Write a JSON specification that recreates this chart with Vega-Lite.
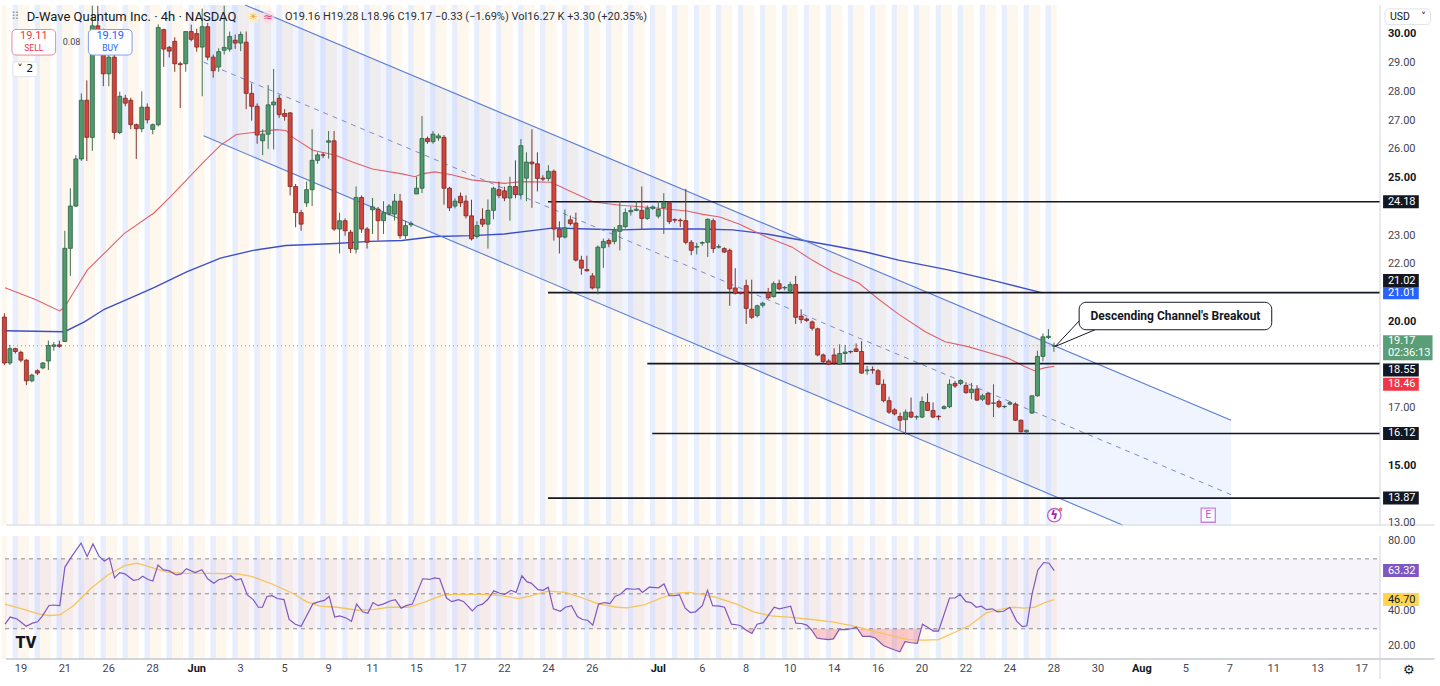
{
"$schema":"https://vega.github.io/schema/vega-lite/v6.json",
"width":1385,"height":664,"padding":0,"background":"#ffffff",
"config":{"view":{"stroke":null},"text":{"font":"Roboto"}},
"datasets":{
"bars":[
{"i":-3,"o":20.17,"h":20.3,"l":18.5,"c":18.57,"s":"pre"},{"i":-2,"o":18.57,"h":19.2,"l":18.5,"c":19.07,"s":"reg"},{"i":-1,"o":19.07,"h":19.1,"l":18.9,"c":18.97,"s":"post"},
{"i":0,"o":18.94,"h":19.0,"l":18.6,"c":18.67,"s":"pre"},{"i":1,"o":18.67,"h":18.7,"l":17.8,"c":17.95,"s":"pre"},{"i":2,"o":17.95,"h":18.2,"l":17.9,"c":18.15,"s":"reg"},{"i":3,"o":18.3,"h":18.35,"l":18.15,"c":18.22,"s":"post"},
{"i":4,"o":18.4,"h":18.6,"l":18.35,"c":18.57,"s":"pre"},{"i":5,"o":18.64,"h":19.35,"l":18.33,"c":19.18,"s":"pre"},{"i":6,"o":19.15,"h":19.3,"l":19.0,"c":19.2,"s":"reg"},{"i":7,"o":19.2,"h":19.35,"l":19.1,"c":19.15,"s":"post"},
{"i":8,"o":19.32,"h":23.17,"l":19.3,"c":22.56,"s":"pre"},{"i":9,"o":22.56,"h":24.65,"l":21.6,"c":24.03,"s":"pre"},{"i":10,"o":24.03,"h":25.8,"l":24.0,"c":25.67,"s":"reg"},{"i":11,"o":25.67,"h":27.95,"l":25.6,"c":27.71,"s":"post"},
{"i":12,"o":27.71,"h":28.4,"l":25.6,"c":26.42,"s":"pre"},{"i":13,"o":26.42,"h":31.0,"l":25.95,"c":30.3,"s":"pre"},{"i":14,"o":30.3,"h":31.0,"l":29.3,"c":29.7,"s":"reg"},{"i":15,"o":29.7,"h":30.2,"l":28.2,"c":28.63,"s":"post"},
{"i":16,"o":28.63,"h":29.6,"l":28.2,"c":29.21,"s":"pre"},{"i":17,"o":29.21,"h":29.3,"l":26.35,"c":26.59,"s":"pre"},{"i":18,"o":26.59,"h":28.01,"l":26.53,"c":27.85,"s":"reg"},{"i":19,"o":27.78,"h":27.9,"l":27.5,"c":27.61,"s":"post"},
{"i":20,"o":27.71,"h":27.8,"l":26.7,"c":26.86,"s":"pre"},{"i":21,"o":26.86,"h":26.9,"l":25.67,"c":26.72,"s":"pre"},{"i":22,"o":26.72,"h":28.02,"l":26.6,"c":27.47,"s":"reg"},{"i":23,"o":27.47,"h":27.6,"l":26.9,"c":27.03,"s":"post"},
{"i":24,"o":26.7,"h":26.9,"l":26.53,"c":26.86,"s":"pre"},{"i":25,"o":26.86,"h":30.35,"l":26.8,"c":30.24,"s":"pre"},{"i":26,"o":30.17,"h":30.2,"l":28.87,"c":29.49,"s":"reg"},{"i":27,"o":29.55,"h":29.6,"l":29.2,"c":29.42,"s":"post"},
{"i":28,"o":29.76,"h":29.9,"l":28.7,"c":28.98,"s":"pre"},{"i":29,"o":28.98,"h":29.05,"l":27.44,"c":28.95,"s":"pre"},{"i":30,"o":28.98,"h":30.11,"l":28.7,"c":30.1,"s":"reg"},{"i":31,"o":30.1,"h":30.34,"l":29.76,"c":29.83,"s":"post"},
{"i":32,"o":30.03,"h":30.2,"l":29.4,"c":29.56,"s":"pre"},{"i":33,"o":29.56,"h":30.9,"l":27.85,"c":30.27,"s":"pre"},{"i":34,"o":30.27,"h":30.4,"l":29.1,"c":29.21,"s":"reg"},{"i":35,"o":29.21,"h":29.3,"l":28.5,"c":28.74,"s":"post"},
{"i":36,"o":28.87,"h":29.52,"l":28.7,"c":29.4,"s":"pre"},{"i":37,"o":29.45,"h":31.0,"l":29.3,"c":29.55,"s":"pre"},{"i":38,"o":29.49,"h":30.1,"l":29.4,"c":29.93,"s":"reg"},{"i":39,"o":29.8,"h":30.0,"l":29.5,"c":29.7,"s":"post"},
{"i":40,"o":29.7,"h":30.1,"l":29.42,"c":30.0,"s":"pre"},{"i":41,"o":29.73,"h":30.1,"l":27.4,"c":27.95,"s":"pre"},{"i":42,"o":27.95,"h":28.3,"l":27.0,"c":27.5,"s":"reg"},{"i":43,"o":27.5,"h":27.6,"l":26.2,"c":26.5,"s":"post"},
{"i":44,"o":26.3,"h":26.7,"l":25.8,"c":26.53,"s":"pre"},{"i":45,"o":26.53,"h":28.24,"l":26.02,"c":27.55,"s":"pre"},{"i":46,"o":27.55,"h":28.8,"l":26.0,"c":27.65,"s":"reg"},{"i":47,"o":27.78,"h":27.9,"l":27.1,"c":27.21,"s":"post"},
{"i":48,"o":27.25,"h":27.4,"l":27.0,"c":27.15,"s":"pre"},{"i":49,"o":27.27,"h":27.3,"l":24.4,"c":24.71,"s":"pre"},{"i":50,"o":24.71,"h":24.8,"l":23.29,"c":23.8,"s":"reg"},{"i":51,"o":23.8,"h":23.9,"l":23.17,"c":23.4,"s":"post"},
{"i":52,"o":24.14,"h":24.88,"l":24.0,"c":24.6,"s":"pre"},{"i":53,"o":24.6,"h":26.7,"l":24.03,"c":25.62,"s":"pre"},{"i":54,"o":25.62,"h":25.9,"l":25.5,"c":25.81,"s":"reg"},{"i":55,"o":25.81,"h":25.9,"l":25.7,"c":25.8,"s":"post"},
{"i":56,"o":26.25,"h":26.64,"l":25.68,"c":26.3,"s":"pre"},{"i":57,"o":26.3,"h":26.64,"l":23.17,"c":23.23,"s":"pre"},{"i":58,"o":23.23,"h":23.8,"l":22.38,"c":23.52,"s":"reg"},{"i":59,"o":23.52,"h":23.6,"l":23.0,"c":23.17,"s":"post"},
{"i":60,"o":23.12,"h":23.2,"l":22.4,"c":22.55,"s":"pre"},{"i":61,"o":22.53,"h":24.71,"l":22.38,"c":24.33,"s":"pre"},{"i":62,"o":24.33,"h":24.4,"l":23.1,"c":23.23,"s":"reg"},{"i":63,"o":23.23,"h":23.3,"l":22.55,"c":22.77,"s":"post"},
{"i":64,"o":23.9,"h":24.31,"l":23.06,"c":24.0,"s":"pre"},{"i":65,"o":23.92,"h":24.0,"l":22.83,"c":23.52,"s":"pre"},{"i":66,"o":23.52,"h":24.2,"l":23.06,"c":23.8,"s":"reg"},{"i":67,"o":23.75,"h":24.1,"l":23.7,"c":24.03,"s":"post"},
{"i":68,"o":23.75,"h":24.45,"l":23.52,"c":24.2,"s":"pre"},{"i":69,"o":24.2,"h":24.45,"l":22.89,"c":23.0,"s":"pre"},{"i":70,"o":23.0,"h":23.52,"l":22.89,"c":23.35,"s":"reg"},{"i":71,"o":23.38,"h":23.5,"l":23.3,"c":23.42,"s":"post"},
{"i":72,"o":24.45,"h":25.05,"l":24.45,"c":24.65,"s":"pre"},{"i":73,"o":24.65,"h":27.16,"l":24.48,"c":26.38,"s":"pre"},{"i":74,"o":26.38,"h":26.45,"l":26.2,"c":26.27,"s":"reg"},{"i":75,"o":26.27,"h":26.64,"l":26.2,"c":26.53,"s":"post"},
{"i":76,"o":26.4,"h":26.55,"l":26.3,"c":26.47,"s":"pre"},{"i":77,"o":26.42,"h":26.5,"l":24.08,"c":24.65,"s":"pre"},{"i":78,"o":24.65,"h":24.7,"l":23.86,"c":23.97,"s":"reg"},{"i":79,"o":24.03,"h":24.3,"l":23.95,"c":24.2,"s":"post"},
{"i":80,"o":24.37,"h":24.5,"l":24.0,"c":24.14,"s":"pre"},{"i":81,"o":24.2,"h":24.4,"l":23.6,"c":23.69,"s":"pre"},{"i":82,"o":23.69,"h":24.25,"l":22.83,"c":22.89,"s":"reg"},{"i":83,"o":22.97,"h":23.5,"l":22.9,"c":23.35,"s":"post"},
{"i":84,"o":23.57,"h":23.95,"l":23.3,"c":23.4,"s":"pre"},{"i":85,"o":23.4,"h":24.26,"l":22.55,"c":23.88,"s":"pre"},{"i":86,"o":23.88,"h":24.7,"l":23.57,"c":24.65,"s":"reg"},{"i":87,"o":24.6,"h":24.88,"l":24.3,"c":24.4,"s":"post"},
{"i":88,"o":24.56,"h":24.7,"l":24.2,"c":24.31,"s":"pre"},{"i":89,"o":24.31,"h":25.05,"l":23.52,"c":24.71,"s":"pre"},{"i":90,"o":24.71,"h":25.62,"l":24.3,"c":24.43,"s":"reg"},{"i":91,"o":24.43,"h":26.36,"l":24.26,"c":26.13,"s":"post"},
{"i":92,"o":25.0,"h":25.9,"l":24.2,"c":25.56,"s":"pre"},{"i":93,"o":25.56,"h":26.7,"l":23.97,"c":25.5,"s":"pre"},{"i":94,"o":25.5,"h":25.9,"l":24.54,"c":24.99,"s":"reg"},{"i":95,"o":25.0,"h":25.1,"l":24.9,"c":24.97,"s":"post"},
{"i":96,"o":24.99,"h":25.45,"l":24.9,"c":25.24,"s":"pre"},{"i":97,"o":25.24,"h":25.3,"l":22.83,"c":23.23,"s":"pre"},{"i":98,"o":23.23,"h":23.5,"l":22.38,"c":22.95,"s":"reg"},{"i":99,"o":22.95,"h":23.91,"l":22.9,"c":23.27,"s":"post"},
{"i":100,"o":23.55,"h":23.7,"l":23.35,"c":23.42,"s":"pre"},{"i":101,"o":23.44,"h":23.8,"l":22.1,"c":22.15,"s":"pre"},{"i":102,"o":22.15,"h":22.3,"l":21.64,"c":21.87,"s":"reg"},{"i":103,"o":21.82,"h":22.3,"l":21.75,"c":21.78,"s":"post"},
{"i":104,"o":21.6,"h":21.7,"l":21.13,"c":21.18,"s":"pre"},{"i":105,"o":21.18,"h":22.66,"l":20.96,"c":22.6,"s":"pre"},{"i":106,"o":22.58,"h":22.9,"l":21.88,"c":22.8,"s":"reg"},{"i":107,"o":22.83,"h":22.9,"l":22.6,"c":22.72,"s":"post"},
{"i":108,"o":22.8,"h":23.3,"l":22.7,"c":23.17,"s":"pre"},{"i":109,"o":23.15,"h":24.2,"l":22.49,"c":23.35,"s":"pre"},{"i":110,"o":23.31,"h":23.95,"l":23.25,"c":23.8,"s":"reg"},{"i":111,"o":23.83,"h":24.0,"l":23.7,"c":23.88,"s":"post"},
{"i":112,"o":23.88,"h":24.2,"l":23.85,"c":23.92,"s":"pre"},{"i":113,"o":23.88,"h":24.71,"l":23.23,"c":23.6,"s":"pre"},{"i":114,"o":23.6,"h":24.05,"l":23.55,"c":23.95,"s":"reg"},{"i":115,"o":23.95,"h":24.05,"l":23.9,"c":24.0,"s":"post"},
{"i":116,"o":23.68,"h":24.2,"l":23.6,"c":23.91,"s":"pre"},{"i":117,"o":23.97,"h":24.48,"l":23.06,"c":24.14,"s":"pre"},{"i":118,"o":24.14,"h":24.2,"l":23.4,"c":23.49,"s":"reg"},{"i":119,"o":23.56,"h":23.6,"l":23.45,"c":23.54,"s":"post"},
{"i":120,"o":23.54,"h":23.6,"l":23.3,"c":23.52,"s":"pre"},{"i":121,"o":23.52,"h":24.63,"l":22.7,"c":22.77,"s":"pre"},{"i":122,"o":22.77,"h":22.85,"l":22.32,"c":22.49,"s":"reg"},{"i":123,"o":22.6,"h":22.75,"l":22.35,"c":22.62,"s":"post"},
{"i":124,"o":22.74,"h":22.8,"l":22.65,"c":22.76,"s":"pre"},{"i":125,"o":22.77,"h":23.6,"l":22.26,"c":23.57,"s":"pre"},{"i":126,"o":23.52,"h":23.6,"l":22.4,"c":22.55,"s":"reg"},{"i":127,"o":22.6,"h":22.7,"l":22.55,"c":22.62,"s":"post"},
{"i":128,"o":22.55,"h":22.6,"l":22.4,"c":22.43,"s":"pre"},{"i":129,"o":22.49,"h":22.55,"l":20.56,"c":21.15,"s":"pre"},{"i":130,"o":21.18,"h":21.87,"l":20.95,"c":21.0,"s":"reg"},{"i":131,"o":21.02,"h":21.05,"l":20.95,"c":21.0,"s":"post"},
{"i":132,"o":21.26,"h":21.47,"l":19.93,"c":20.47,"s":"pre"},{"i":133,"o":20.44,"h":21.47,"l":20.1,"c":20.16,"s":"pre"},{"i":134,"o":20.22,"h":20.6,"l":20.15,"c":20.56,"s":"reg"},{"i":135,"o":20.58,"h":20.7,"l":20.5,"c":20.65,"s":"post"},
{"i":136,"o":21.01,"h":21.18,"l":20.8,"c":20.84,"s":"pre"},{"i":137,"o":20.88,"h":21.41,"l":20.85,"c":21.33,"s":"pre"},{"i":138,"o":21.33,"h":21.47,"l":21.1,"c":21.15,"s":"reg"},{"i":139,"o":21.18,"h":21.25,"l":21.1,"c":21.2,"s":"post"},
{"i":140,"o":21.07,"h":21.4,"l":21.0,"c":21.3,"s":"pre"},{"i":141,"o":21.3,"h":21.6,"l":19.93,"c":20.16,"s":"pre"},{"i":142,"o":20.2,"h":20.44,"l":19.95,"c":20.08,"s":"reg"},{"i":143,"o":20.1,"h":20.15,"l":20.0,"c":20.05,"s":"post"},
{"i":144,"o":20.0,"h":20.05,"l":19.7,"c":19.78,"s":"pre"},{"i":145,"o":19.76,"h":19.8,"l":18.8,"c":18.85,"s":"pre"},{"i":146,"o":18.85,"h":18.9,"l":18.55,"c":18.62,"s":"reg"},{"i":147,"o":18.64,"h":18.7,"l":18.5,"c":18.53,"s":"post"},
{"i":148,"o":18.85,"h":19.08,"l":18.5,"c":18.57,"s":"pre"},{"i":149,"o":18.53,"h":19.22,"l":18.5,"c":18.9,"s":"pre"},{"i":150,"o":18.9,"h":19.2,"l":18.6,"c":18.95,"s":"reg"},{"i":151,"o":18.97,"h":19.0,"l":18.9,"c":18.96,"s":"post"},
{"i":152,"o":19.06,"h":19.25,"l":18.95,"c":18.97,"s":"pre"},{"i":153,"o":18.97,"h":19.33,"l":18.2,"c":18.22,"s":"pre"},{"i":154,"o":18.3,"h":18.47,"l":18.16,"c":18.33,"s":"reg"},{"i":155,"o":18.34,"h":18.45,"l":18.2,"c":18.32,"s":"post"},
{"i":156,"o":18.3,"h":18.36,"l":17.8,"c":17.83,"s":"pre"},{"i":157,"o":17.83,"h":18.0,"l":17.2,"c":17.26,"s":"pre"},{"i":158,"o":17.26,"h":17.4,"l":16.8,"c":16.86,"s":"reg"},{"i":159,"o":16.94,"h":17.0,"l":16.75,"c":16.8,"s":"post"},
{"i":160,"o":16.71,"h":16.85,"l":16.24,"c":16.58,"s":"pre"},{"i":161,"o":16.6,"h":16.95,"l":16.07,"c":16.86,"s":"pre"},{"i":162,"o":16.86,"h":17.37,"l":16.65,"c":16.69,"s":"reg"},{"i":163,"o":16.69,"h":16.75,"l":16.6,"c":16.7,"s":"post"},
{"i":164,"o":16.69,"h":17.4,"l":16.65,"c":17.23,"s":"pre"},{"i":165,"o":17.2,"h":17.51,"l":16.9,"c":16.92,"s":"pre"},{"i":166,"o":16.92,"h":17.2,"l":16.65,"c":16.69,"s":"reg"},{"i":167,"o":16.72,"h":16.75,"l":16.58,"c":16.7,"s":"post"},
{"i":168,"o":16.99,"h":17.1,"l":16.95,"c":17.05,"s":"pre"},{"i":169,"o":17.05,"h":18.0,"l":17.0,"c":17.83,"s":"pre"},{"i":170,"o":17.86,"h":17.95,"l":17.7,"c":17.77,"s":"reg"},{"i":171,"o":17.86,"h":18.0,"l":17.8,"c":17.96,"s":"post"},
{"i":172,"o":17.79,"h":17.9,"l":17.5,"c":17.54,"s":"pre"},{"i":173,"o":17.54,"h":17.88,"l":17.31,"c":17.66,"s":"pre"},{"i":174,"o":17.66,"h":17.8,"l":17.25,"c":17.28,"s":"reg"},{"i":175,"o":17.31,"h":17.5,"l":17.25,"c":17.43,"s":"post"},
{"i":176,"o":17.51,"h":17.55,"l":17.1,"c":17.14,"s":"pre"},{"i":177,"o":17.17,"h":17.83,"l":16.69,"c":17.18,"s":"pre"},{"i":178,"o":17.23,"h":17.3,"l":17.0,"c":17.05,"s":"reg"},{"i":179,"o":17.05,"h":17.1,"l":17.0,"c":17.06,"s":"post"},
{"i":180,"o":17.14,"h":17.25,"l":17.1,"c":17.19,"s":"pre"},{"i":181,"o":17.14,"h":17.2,"l":16.55,"c":16.58,"s":"pre"},{"i":182,"o":16.58,"h":16.6,"l":16.15,"c":16.18,"s":"reg"},{"i":183,"o":16.18,"h":16.25,"l":16.12,"c":16.23,"s":"post"},
{"i":184,"o":16.83,"h":17.43,"l":16.8,"c":17.43,"s":"pre"},{"i":185,"o":17.43,"h":19.0,"l":17.4,"c":18.8,"s":"pre"},{"i":186,"o":18.8,"h":19.6,"l":18.63,"c":19.48,"s":"reg"},{"i":187,"o":19.46,"h":19.75,"l":19.4,"c":19.5,"s":"post"},
{"i":188,"o":19.16,"h":19.28,"l":18.96,"c":19.17,"s":"pre"}],
"ma50":[{"i":-2.89,"p":21.19},{"i":2.53,"p":20.79},{"i":7.05,"p":20.38},{"i":7.95,"p":20.51},{"i":12.1,"p":21.81},{"i":15.72,"p":22.49},{"i":18.79,"p":23.07},{"i":24.21,"p":23.79},{"i":27.28,"p":24.37},{"i":33.24,"p":25.56},{"i":36.31,"p":26.14},{"i":39.2,"p":26.52},{"i":42.28,"p":26.59},{"i":46.43,"p":26.69},{"i":48.24,"p":26.66},{"i":49.5,"p":26.42},{"i":53.12,"p":25.97},{"i":57.27,"p":25.8},{"i":60.34,"p":25.56},{"i":63.96,"p":25.32},{"i":69.38,"p":25.15},{"i":71.73,"p":25.05},{"i":72.99,"p":25.15},{"i":75.34,"p":25.22},{"i":78.41,"p":25.12},{"i":82.02,"p":24.94},{"i":87.99,"p":24.82},{"i":91.06,"p":24.88},{"i":96.48,"p":24.86},{"i":100.09,"p":24.54},{"i":104.25,"p":24.17},{"i":109.12,"p":24.06},{"i":115.09,"p":23.97},{"i":121.23,"p":23.86},{"i":124.12,"p":23.74},{"i":127.19,"p":23.65},{"i":130.8,"p":23.4},{"i":135.68,"p":22.95},{"i":140.38,"p":22.6},{"i":143.99,"p":22.15},{"i":147.61,"p":21.75},{"i":152.48,"p":21.35},{"i":156.1,"p":20.79},{"i":159.71,"p":20.27},{"i":164.59,"p":19.66},{"i":168.2,"p":19.31},{"i":172.36,"p":19.14},{"i":176.51,"p":18.91},{"i":179.58,"p":18.74},{"i":182.66,"p":18.45},{"i":184.46,"p":18.3},{"i":186.27,"p":18.4},{"i":188.07,"p":18.46}],
"ma200":[{"i":-2.89,"p":19.69},{"i":7.95,"p":19.66},{"i":11.56,"p":20.0},{"i":15.18,"p":20.44},{"i":20.6,"p":20.89},{"i":24.21,"p":21.19},{"i":30.17,"p":21.74},{"i":36.31,"p":22.22},{"i":42.28,"p":22.49},{"i":48.24,"p":22.66},{"i":57.27,"p":22.73},{"i":63.41,"p":22.8},{"i":69.38,"p":22.83},{"i":75.34,"p":22.97},{"i":82.02,"p":23.0},{"i":87.99,"p":23.06},{"i":94.13,"p":23.2},{"i":97.02,"p":23.27},{"i":103.16,"p":23.23},{"i":109.12,"p":23.2},{"i":115.09,"p":23.23},{"i":123.58,"p":23.23},{"i":129.54,"p":23.2},{"i":135.68,"p":23.06},{"i":141.64,"p":22.86},{"i":147.61,"p":22.66},{"i":153.75,"p":22.43},{"i":159.71,"p":22.15},{"i":168.74,"p":21.81},{"i":177.78,"p":21.4},{"i":185.91,"p":21.01}],
"chan":[{"k":"up","i":40.83,"p":31.024},{"k":"up","i":220.24,"p":16.577},{"k":"lo","i":33.24,"p":26.475},{"k":"lo","i":200.47,"p":12.935}],
"mid":[{"i":33.24,"p":29.04},{"i":220.24,"p":13.99}],
"chfill":[{"i":33.24,"t":31.024,"b":26.475},{"i":40.83,"t":31.024,"b":25.86},{"i":200.47,"t":18.17,"b":12.935},{"i":220.24,"t":16.577,"b":12.935}],
"levels":[{"v":24.18,"f":95.93},{"v":21.02,"f":95.93},{"v":18.55,"f":114.0},{"v":16.12,"f":114.9},{"v":13.87,"f":95.93}],
"tags":[{"v":24.18,"t":"24.18","k":"lvl"},{"v":21.02,"t":"21.02","k":"lvl"},{"v":21.01,"t":"21.01","k":"ma200"},{"v":19.17,"t":"19.17","k":"price"},{"v":18.55,"t":"18.55","k":"lvl"},{"v":18.46,"t":"18.46","k":"ma50"},{"v":16.12,"t":"16.12","k":"lvl"},{"v":13.87,"t":"13.87","k":"lvl"}],
"rtags":[{"v":63.32,"t":"63.32","k":"rsi"},{"v":46.7,"t":"46.70","k":"rsima"}],
"pt":[{"v":13,"t":"13.00"},{"v":15,"t":"15.00"},{"v":17,"t":"17.00"},{"v":20,"t":"20.00"},{"v":22,"t":"22.00"},{"v":23,"t":"23.00"},{"v":25,"t":"25.00"},{"v":26,"t":"26.00"},{"v":27,"t":"27.00"},{"v":28,"t":"28.00"},{"v":29,"t":"29.00"},{"v":30,"t":"30.00"}],
"rt":[{"v":20,"t":"20.00"},{"v":40,"t":"40.00"},{"v":80,"t":"80.00"}],
"xt":[{"i":0,"t":"19"},{"i":8,"t":"21"},{"i":16,"t":"26"},{"i":24,"t":"28"},{"i":32,"t":"Jun"},{"i":40,"t":"3"},{"i":48,"t":"5"},{"i":56,"t":"9"},{"i":64,"t":"11"},{"i":72,"t":"15"},{"i":80,"t":"17"},{"i":88,"t":"22"},{"i":96,"t":"24"},{"i":104,"t":"26"},{"i":116,"t":"Jul"},{"i":124,"t":"6"},{"i":132,"t":"8"},{"i":140,"t":"10"},{"i":148,"t":"14"},{"i":156,"t":"16"},{"i":164,"t":"20"},{"i":172,"t":"22"},{"i":180,"t":"24"},{"i":188,"t":"28"},{"i":196,"t":"30"},{"i":204,"t":"Aug"},{"i":212,"t":"5"},{"i":220,"t":"7"},{"i":228,"t":"11"},{"i":236,"t":"13"},{"i":244,"t":"17"}],
"pointer":[{"o":1,"i":192.59,"p":20.034},{"o":2,"i":188.25,"p":19.147},{"o":3,"i":195.48,"p":19.727}],
"rlev":[{"v":70},{"v":50},{"v":30}],
"rsi":[{"i":-2.89,"r":32.6},{"i":-1.95,"r":36.7},{"i":-0.71,"r":35.6},{"i":0.97,"r":31.4},{"i":2.09,"r":33.2},{"i":3.03,"r":34.0},{"i":3.84,"r":37.0},{"i":5.08,"r":43.2},{"i":5.83,"r":43.6},{"i":7.08,"r":43.2},{"i":8.01,"r":65.3},{"i":9.26,"r":71.4},{"i":10.94,"r":79.0},{"i":12.06,"r":71.4},{"i":13.12,"r":78.5},{"i":14.24,"r":71.4},{"i":15.18,"r":68.8},{"i":16.11,"r":70.5},{"i":17.04,"r":59.1},{"i":17.98,"r":62.1},{"i":18.91,"r":61.4},{"i":20.47,"r":57.7},{"i":21.41,"r":58.2},{"i":22.15,"r":60.0},{"i":23.15,"r":58.2},{"i":24.02,"r":57.3},{"i":24.95,"r":66.5},{"i":25.89,"r":63.8},{"i":27.01,"r":63.1},{"i":28.26,"r":60.8},{"i":29.19,"r":61.4},{"i":30.13,"r":64.4},{"i":31.69,"r":62.1},{"i":32.94,"r":63.8},{"i":33.99,"r":58.6},{"i":35.11,"r":56.1},{"i":36.05,"r":58.2},{"i":36.98,"r":58.6},{"i":38.23,"r":60.3},{"i":39.16,"r":57.8},{"i":40.09,"r":58.6},{"i":41.21,"r":49.4},{"i":42.28,"r":46.7},{"i":43.21,"r":42.3},{"i":43.96,"r":42.3},{"i":44.77,"r":48.5},{"i":45.71,"r":48.9},{"i":46.64,"r":47.3},{"i":47.88,"r":46.7},{"i":48.82,"r":35.3},{"i":49.94,"r":32.6},{"i":51.0,"r":31.4},{"i":53.17,"r":44.4},{"i":54.3,"r":45.5},{"i":55.23,"r":46.2},{"i":56.11,"r":48.5},{"i":57.11,"r":36.7},{"i":58.03,"r":37.4},{"i":59.28,"r":36.0},{"i":60.16,"r":34.2},{"i":61.09,"r":44.1},{"i":62.21,"r":39.7},{"i":63.15,"r":38.8},{"i":64.08,"r":45.0},{"i":65.02,"r":43.2},{"i":66.14,"r":44.4},{"i":67.19,"r":45.9},{"i":68.13,"r":46.7},{"i":69.2,"r":41.8},{"i":70.12,"r":43.2},{"i":71.24,"r":44.1},{"i":73.12,"r":58.6},{"i":74.36,"r":58.2},{"i":75.3,"r":59.1},{"i":76.22,"r":58.6},{"i":77.47,"r":47.6},{"i":78.41,"r":45.5},{"i":79.66,"r":46.6},{"i":80.6,"r":45.5},{"i":82.15,"r":40.2},{"i":83.09,"r":43.2},{"i":84.01,"r":44.1},{"i":84.95,"r":46.7},{"i":86.07,"r":51.7},{"i":87.14,"r":50.3},{"i":88.06,"r":49.7},{"i":89.19,"r":52.0},{"i":90.12,"r":50.8},{"i":91.18,"r":60.3},{"i":92.12,"r":56.8},{"i":92.86,"r":56.1},{"i":94.11,"r":52.4},{"i":95.05,"r":52.0},{"i":95.97,"r":53.8},{"i":96.91,"r":41.4},{"i":98.16,"r":40.0},{"i":99.1,"r":42.3},{"i":100.22,"r":43.2},{"i":101.28,"r":37.0},{"i":102.2,"r":35.3},{"i":103.14,"r":34.9},{"i":104.08,"r":32.1},{"i":105.13,"r":44.1},{"i":106.25,"r":45.0},{"i":107.19,"r":44.4},{"i":108.13,"r":48.5},{"i":109.07,"r":49.7},{"i":110.19,"r":52.9},{"i":111.55,"r":52.6},{"i":112.48,"r":52.9},{"i":113.11,"r":50.8},{"i":114.36,"r":53.8},{"i":116.04,"r":53.4},{"i":117.04,"r":55.6},{"i":117.98,"r":48.9},{"i":118.9,"r":49.0},{"i":119.84,"r":49.4},{"i":120.9,"r":41.8},{"i":121.83,"r":39.3},{"i":122.76,"r":39.7},{"i":124.01,"r":43.2},{"i":124.95,"r":52.0},{"i":125.89,"r":43.2},{"i":127.13,"r":42.9},{"i":128.06,"r":42.3},{"i":129.31,"r":32.6},{"i":130.25,"r":32.3},{"i":130.98,"r":31.7},{"i":132.0,"r":29.1},{"i":133.04,"r":27.3},{"i":133.98,"r":32.6},{"i":135.1,"r":33.5},{"i":137.09,"r":42.3},{"i":138.03,"r":41.4},{"i":139.28,"r":42.3},{"i":140.09,"r":42.9},{"i":141.03,"r":33.2},{"i":142.08,"r":33.0},{"i":143.02,"r":32.1},{"i":143.83,"r":29.6},{"i":144.88,"r":24.7},{"i":145.82,"r":24.2},{"i":146.94,"r":23.8},{"i":147.88,"r":24.2},{"i":148.93,"r":29.6},{"i":150.17,"r":29.5},{"i":151.11,"r":30.0},{"i":152.05,"r":30.9},{"i":153.17,"r":25.6},{"i":154.54,"r":25.6},{"i":155.48,"r":24.7},{"i":157.03,"r":20.3},{"i":158.9,"r":18.0},{"i":159.96,"r":16.8},{"i":160.9,"r":22.6},{"i":162.02,"r":22.0},{"i":163.14,"r":21.7},{"i":164.07,"r":32.6},{"i":165.0,"r":30.9},{"i":166.07,"r":28.6},{"i":166.99,"r":28.6},{"i":169.0,"r":47.6},{"i":169.99,"r":47.6},{"i":170.93,"r":49.7},{"i":171.98,"r":45.5},{"i":172.92,"r":45.0},{"i":173.86,"r":42.3},{"i":174.78,"r":42.9},{"i":175.72,"r":40.9},{"i":176.78,"r":41.4},{"i":177.72,"r":39.7},{"i":178.84,"r":40.0},{"i":179.96,"r":42.3},{"i":181.21,"r":34.4},{"i":182.26,"r":31.2},{"i":183.07,"r":31.7},{"i":184.01,"r":49.7},{"i":185.06,"r":63.5},{"i":186.12,"r":67.9},{"i":187.11,"r":67.5},{"i":188.05,"r":63.3}],
"rsima":[{"i":-2.89,"r":44.1},{"i":0.22,"r":41.4},{"i":3.34,"r":38.4},{"i":5.21,"r":37.6},{"i":7.08,"r":37.9},{"i":9.57,"r":43.2},{"i":12.68,"r":52.9},{"i":15.8,"r":60.8},{"i":18.91,"r":66.1},{"i":21.1,"r":67.5},{"i":23.28,"r":65.6},{"i":26.39,"r":62.6},{"i":29.5,"r":61.7},{"i":34.49,"r":61.7},{"i":39.47,"r":61.4},{"i":41.97,"r":60.0},{"i":45.71,"r":55.6},{"i":49.44,"r":50.3},{"i":51.93,"r":45.5},{"i":54.42,"r":42.9},{"i":57.54,"r":42.3},{"i":61.28,"r":40.6},{"i":64.39,"r":41.1},{"i":66.89,"r":42.3},{"i":70.62,"r":42.3},{"i":73.73,"r":45.5},{"i":76.85,"r":49.4},{"i":79.96,"r":49.7},{"i":84.33,"r":49.7},{"i":87.44,"r":49.0},{"i":90.55,"r":47.3},{"i":92.42,"r":48.5},{"i":95.97,"r":51.5},{"i":99.1,"r":50.8},{"i":102.2,"r":47.6},{"i":105.3,"r":44.1},{"i":108.44,"r":42.3},{"i":110.31,"r":42.0},{"i":113.42,"r":43.7},{"i":116.54,"r":47.6},{"i":119.03,"r":50.3},{"i":121.52,"r":50.8},{"i":124.01,"r":49.7},{"i":126.5,"r":48.0},{"i":130.25,"r":44.1},{"i":133.36,"r":39.7},{"i":136.47,"r":37.4},{"i":140.21,"r":36.5},{"i":143.95,"r":35.3},{"i":147.68,"r":33.9},{"i":151.42,"r":31.7},{"i":155.16,"r":28.6},{"i":158.9,"r":25.6},{"i":161.39,"r":23.8},{"i":164.5,"r":23.5},{"i":166.99,"r":23.8},{"i":169.48,"r":27.3},{"i":172.6,"r":31.7},{"i":175.72,"r":39.2},{"i":178.84,"r":41.4},{"i":180.7,"r":42.3},{"i":182.57,"r":41.8},{"i":184.44,"r":42.3},{"i":186.31,"r":45.0},{"i":188.05,"r":46.7}],
"os":[{"g":0,"i":131.65,"r":30},{"g":0,"i":132.0,"r":29.1},{"g":0,"i":133.04,"r":27.3},{"g":0,"i":133.52,"r":30},{"g":1,"i":143.7,"r":30},{"g":1,"i":143.83,"r":29.6},{"g":1,"i":144.88,"r":24.7},{"g":1,"i":145.82,"r":24.2},{"g":1,"i":146.94,"r":23.8},{"g":1,"i":147.88,"r":24.2},{"g":1,"i":148.93,"r":29.6},{"g":1,"i":150.17,"r":29.5},{"g":1,"i":151.11,"r":30},{"g":2,"i":152.24,"r":30},{"g":2,"i":153.17,"r":25.6},{"g":2,"i":154.54,"r":25.6},{"g":2,"i":155.48,"r":24.7},{"g":2,"i":157.03,"r":20.3},{"g":2,"i":158.9,"r":18.0},{"g":2,"i":159.96,"r":16.8},{"g":2,"i":160.9,"r":22.6},{"g":2,"i":162.02,"r":22.0},{"g":2,"i":163.14,"r":21.7},{"g":2,"i":163.85,"r":30},{"g":3,"i":165.42,"r":30},{"g":3,"i":166.07,"r":28.6},{"g":3,"i":166.99,"r":28.6},{"g":3,"i":167.14,"r":30}]
},
"resolve":{"scale":{"y":"independent"}},
"layer":[
{"layer":[
{"data":{"name":"bars"},"mark":{"type":"bar","size":5.6,"clip":true},
 "encoding":{
  "x":{"field":"i","type":"quantitative","scale":{"domain":[-2.89,247.34],"nice":false,"zero":false},"axis":null},
  "y":{"datum":31.024,"scale":{"domain":[12.935,31.024],"range":[530,0],"nice":false,"zero":false},"axis":null},
  "y2":{"datum":12.935},
  "color":{"field":"s","type":"nominal","scale":{"domain":["pre","reg","post"],"range":["#fef7ed","#ffffff","#e9eefc"]},"legend":null}}},
{"data":{"name":"chfill"},"mark":{"type":"area","color":"#2962ff","opacity":0.07,"clip":true},
 "encoding":{"x":{"field":"i","type":"quantitative","axis":null},"y":{"field":"t","type":"quantitative","axis":null},"y2":{"field":"b"}}},
{"data":{"name":"ma200"},"mark":{"type":"line","color":"#3c4fc8","strokeWidth":1.4,"clip":true},
 "encoding":{"x":{"field":"i","type":"quantitative","axis":null},"y":{"field":"p","type":"quantitative","axis":null}}},
{"data":{"name":"ma50"},"mark":{"type":"line","color":"#e0606a","strokeWidth":1.1,"clip":true},
 "encoding":{"x":{"field":"i","type":"quantitative","axis":null},"y":{"field":"p","type":"quantitative","axis":null}}},
{"data":{"name":"chan"},"mark":{"type":"line","color":"#5a7dd4","strokeWidth":1.1,"clip":true},
 "encoding":{"x":{"field":"i","type":"quantitative","axis":null},"y":{"field":"p","type":"quantitative","axis":null},"detail":{"field":"k"}}},
{"data":{"name":"mid"},"mark":{"type":"line","color":"#7a8fc8","strokeWidth":1,"strokeDash":[5,5],"clip":true},
 "encoding":{"x":{"field":"i","type":"quantitative","axis":null},"y":{"field":"p","type":"quantitative","axis":null}}},
{"data":{"name":"levels"},"mark":{"type":"rule","color":"#131722","strokeWidth":1.6,"clip":true},
 "encoding":{"x":{"field":"f","type":"quantitative","axis":null},"x2":{"datum":247.34},"y":{"field":"v","type":"quantitative","axis":null}}},
{"data":{"name":"tags"},"transform":[{"filter":"datum.k == 'price'"}],"mark":{"type":"rule","color":"#9598a1","strokeWidth":1,"strokeDash":[1,3],"clip":true},
 "encoding":{"x":{"datum":-2.89,"axis":null},"x2":{"datum":247.34},"y":{"field":"v","type":"quantitative","axis":null}}},
{"data":{"name":"bars"},"mark":{"type":"rule","strokeWidth":1,"clip":true},
 "encoding":{"x":{"field":"i","type":"quantitative","axis":null},
  "y":{"field":"l","type":"quantitative","axis":null},"y2":{"field":"h"},
  "color":{"condition":{"test":"datum.c >= datum.o","value":"#3f6f55"},"value":"#7d3531"}}},
{"data":{"name":"bars"},"mark":{"type":"bar","size":4,"strokeWidth":0.8,"clip":true},
 "encoding":{"x":{"field":"i","type":"quantitative","axis":null},"y":{"field":"o","type":"quantitative","axis":null},"y2":{"field":"c"},
  "fill":{"condition":{"test":"datum.c >= datum.o","value":"#4f9b6d"},"value":"#cf463d"},
  "stroke":{"condition":{"test":"datum.c >= datum.o","value":"#2d5e42"},"value":"#7e2520"}}},
{"data":{"name":"pointer"},"mark":{"type":"line","color":"#131722","strokeWidth":1},
 "encoding":{"x":{"field":"i","type":"quantitative","axis":null},"y":{"field":"p","type":"quantitative","axis":null},"order":{"field":"o"}}},
{"data":{"values":[{}]},"mark":{"type":"rect","fill":"#ffffff","stroke":"#131722","strokeWidth":1,"cornerRadius":7},
 "encoding":{"x":{"datum":192.59,"axis":null},"x2":{"datum":227.64},"y":{"datum":20.683,"axis":null},"y2":{"datum":19.727}}},
{"data":{"values":[{}]},"mark":{"type":"text","text":"Descending Channel's Breakout","fontSize":12,"fontWeight":"bold","color":"#131722","align":"center","baseline":"middle"},
 "encoding":{"x":{"datum":210.12,"axis":null},"y":{"datum":20.205,"axis":null}}},
{"data":{"values":[{}]},"mark":{"type":"point","shape":"circle","size":180,"filled":false,"stroke":"#9c27b0","strokeWidth":1.3,"fill":"#ffffff"},
 "encoding":{"x":{"datum":188.07,"axis":null},"y":{"datum":13.276,"axis":null}}},
{"data":{"values":[{}]},"mark":{"type":"text","text":"ϟ","fontSize":12,"fontWeight":"bold","color":"#9c27b0","align":"center","baseline":"middle","font":"DejaVu Sans"},
 "encoding":{"x":{"datum":188.07,"axis":null},"y":{"datum":13.276,"axis":null}}},
{"data":{"values":[{}]},"mark":{"type":"point","shape":"circle","size":14,"filled":true,"color":"#f23645"},
 "encoding":{"x":{"datum":189.2,"axis":null},"y":{"datum":13.48,"axis":null}}},
{"data":{"values":[{}]},"mark":{"type":"point","shape":"square","size":200,"filled":false,"stroke":"#c04fd6","strokeWidth":1.3,"fill":"#ffffff"},
 "encoding":{"x":{"datum":216.08,"axis":null},"y":{"datum":13.276,"axis":null}}},
{"data":{"values":[{}]},"mark":{"type":"text","text":"E","fontSize":10,"color":"#c04fd6","align":"center","baseline":"middle"},
 "encoding":{"x":{"datum":216.08,"axis":null},"y":{"datum":13.276,"axis":null}}},
{"data":{"values":[{}]},"mark":{"type":"text","text":"⠿","fontSize":11,"color":"#9598a1","align":"center","baseline":"middle","font":"DejaVu Sans"},
 "encoding":{"x":{"datum":-1.0,"axis":null},"y":{"datum":30.614,"axis":null}}},
{"data":{"values":[{}]},"mark":{"type":"text","text":"D-Wave Quantum Inc. · 4h · NASDAQ","fontSize":13,"color":"#131722","align":"left","baseline":"middle"},
 "encoding":{"x":{"datum":1.084,"axis":null},"y":{"datum":30.614,"axis":null}}},
{"data":{"values":[{}]},"mark":{"type":"point","shape":"circle","size":170,"filled":true,"color":"#fdecc8"},
 "encoding":{"x":{"datum":42.28,"axis":null},"y":{"datum":30.614,"axis":null}}},
{"data":{"values":[{}]},"mark":{"type":"text","text":"☀","fontSize":10,"color":"#f5a623","align":"center","baseline":"middle","font":"DejaVu Sans"},
 "encoding":{"x":{"datum":42.28,"axis":null},"y":{"datum":30.614,"axis":null}}},
{"data":{"values":[{}]},"mark":{"type":"point","shape":"circle","size":170,"filled":true,"color":"#fbd9e4"},
 "encoding":{"x":{"datum":44.99,"axis":null},"y":{"datum":30.614,"axis":null}}},
{"data":{"values":[{}]},"mark":{"type":"text","text":"≈","fontSize":12,"color":"#e0457b","align":"center","baseline":"middle","font":"DejaVu Sans"},
 "encoding":{"x":{"datum":44.99,"axis":null},"y":{"datum":30.614,"axis":null}}},
{"data":{"values":[{}]},"mark":{"type":"text","text":"O19.16  H19.28  L18.96  C19.17  −0.33 (−1.69%)  Vol16.27 K  +3.30 (+20.35%)","fontSize":11,"color":"#2a2e39","align":"left","baseline":"middle"},
 "encoding":{"x":{"datum":48.06,"axis":null},"y":{"datum":30.614,"axis":null}}},
{"data":{"values":[{}]},"mark":{"type":"rect","fill":"#ffffff","stroke":"#ec8a92","strokeWidth":1,"cornerRadius":4},
 "encoding":{"x":{"datum":-1.626,"axis":null},"x2":{"datum":6.323},"y":{"datum":30.171,"axis":null},"y2":{"datum":29.283}}},
{"data":{"values":[{}]},"mark":{"type":"rect","fill":"#ffffff","stroke":"#7f9ef0","strokeWidth":1,"cornerRadius":4},
 "encoding":{"x":{"datum":12.285,"axis":null},"x2":{"datum":20.235},"y":{"datum":30.171,"axis":null},"y2":{"datum":29.283}}},
{"data":{"values":[{}]},"mark":{"type":"rect","fill":"#ffffff","stroke":"#e0e3eb","strokeWidth":1,"cornerRadius":3},
 "encoding":{"x":{"datum":-1.445,"axis":null},"x2":{"datum":3.071},"y":{"datum":29.045,"axis":null},"y2":{"datum":28.532}}},
{"data":{"values":[{}]},"mark":{"type":"text","text":"19.11","fontSize":11,"color":"#f23645","align":"center","baseline":"middle"},
 "encoding":{"x":{"datum":2.349,"axis":null},"y":{"datum":29.932,"axis":null}}},
{"data":{"values":[{}]},"mark":{"type":"text","text":"SELL","fontSize":8.5,"color":"#f23645","align":"center","baseline":"middle"},
 "encoding":{"x":{"datum":2.349,"axis":null},"y":{"datum":29.522,"axis":null}}},
{"data":{"values":[{}]},"mark":{"type":"text","text":"0.08","fontSize":9,"color":"#434651","align":"center","baseline":"middle"},
 "encoding":{"x":{"datum":9.214,"axis":null},"y":{"datum":29.727,"axis":null}}},
{"data":{"values":[{}]},"mark":{"type":"text","text":"19.19","fontSize":11,"color":"#2962ff","align":"center","baseline":"middle"},
 "encoding":{"x":{"datum":16.26,"axis":null},"y":{"datum":29.932,"axis":null}}},
{"data":{"values":[{}]},"mark":{"type":"text","text":"BUY","fontSize":8.5,"color":"#2962ff","align":"center","baseline":"middle"},
 "encoding":{"x":{"datum":16.26,"axis":null},"y":{"datum":29.522,"axis":null}}},
{"data":{"values":[{}]},"mark":{"type":"text","text":"˅ 2","fontSize":11,"color":"#131722","align":"center","baseline":"middle","font":"DejaVu Sans"},
 "encoding":{"x":{"datum":0.813,"axis":null},"y":{"datum":28.789,"axis":null}}},
{"data":{"values":[{}]},"mark":{"type":"rect","fill":"#ffffff","stroke":"#e0e3eb","strokeWidth":1,"cornerRadius":4},
 "encoding":{"x":{"datum":248.24,"axis":null},"x2":{"datum":256.55},"y":{"datum":30.888,"axis":null},"y2":{"datum":30.341}}},
{"data":{"values":[{}]},"mark":{"type":"text","text":"USD","fontSize":10.5,"color":"#131722","align":"left","baseline":"middle"},
 "encoding":{"x":{"datum":249.14,"axis":null},"y":{"datum":30.614,"axis":null}}},
{"data":{"values":[{}]},"mark":{"type":"text","text":"˅","fontSize":10,"color":"#131722","align":"center","baseline":"middle","font":"DejaVu Sans"},
 "encoding":{"x":{"datum":255.27,"axis":null},"y":{"datum":30.614,"axis":null}}},
{"data":{"values":[{}]},"mark":{"type":"rule","color":"#d1d4dc","strokeWidth":1},
 "encoding":{"x":{"datum":-2.7,"axis":null},"x2":{"datum":257.27},"y":{"datum":12.935,"axis":null}}},
{"data":{"values":[{}]},"mark":{"type":"rule","color":"#d1d4dc","strokeWidth":1},
 "encoding":{"x":{"datum":247.34,"axis":null},"y":{"datum":31.024,"axis":null},"y2":{"datum":12.935}}},
{"data":{"name":"pt"},"transform":[{"filter":"datum.v % 5 != 0"}],"mark":{"type":"text","align":"left","baseline":"middle","fontSize":11,"color":"#434651"},
 "encoding":{"x":{"datum":248.78,"axis":null},"y":{"field":"v","type":"quantitative","axis":null},"text":{"field":"t"}}},
{"data":{"name":"pt"},"transform":[{"filter":"datum.v % 5 == 0"}],"mark":{"type":"text","align":"left","baseline":"middle","fontSize":11,"fontWeight":"bold","color":"#131722"},
 "encoding":{"x":{"datum":248.78,"axis":null},"y":{"field":"v","type":"quantitative","axis":null},"text":{"field":"t"}}},
{"data":{"name":"tags"},"transform":[{"filter":"indexof(['24.18','21.01','16.12','13.87'], datum.t) >= 0"}],"mark":{"type":"bar","orient":"horizontal","size":13},
 "encoding":{"x":{"datum":247.9,"axis":null},"x2":{"datum":254.4},"y":{"field":"v","type":"quantitative","axis":null},
  "fill":{"field":"k","type":"nominal","scale":{"domain":["lvl","ma200","ma50","price","rsi","rsima"],"range":["#131722","#2962ff","#f23645","#5a9e78","#7e57c2","#ffd54f"]},"legend":null}}},
{"data":{"name":"tags"},"transform":[{"filter":"indexof(['24.18','21.01','16.12','13.87'], datum.t) >= 0"}],"mark":{"type":"text","align":"left","baseline":"middle","fontSize":11,"color":"#ffffff"},
 "encoding":{"x":{"datum":248.78,"axis":null},"y":{"field":"v","type":"quantitative","axis":null},"text":{"field":"t"}}},
{"data":{"name":"tags"},"transform":[{"filter":"datum.t == '21.02'"}],"mark":{"type":"bar","orient":"horizontal","size":13,"yOffset":-12},
 "encoding":{"x":{"datum":247.9,"axis":null},"x2":{"datum":254.4},"y":{"field":"v","type":"quantitative","axis":null},
  "fill":{"field":"k","type":"nominal","scale":{"domain":["lvl","ma200","ma50","price","rsi","rsima"],"range":["#131722","#2962ff","#f23645","#5a9e78","#7e57c2","#ffd54f"]},"legend":null}}},
{"data":{"name":"tags"},"transform":[{"filter":"datum.t == '21.02'"}],"mark":{"type":"text","align":"left","baseline":"middle","fontSize":11,"color":"#ffffff","yOffset":-12},
 "encoding":{"x":{"datum":248.78,"axis":null},"y":{"field":"v","type":"quantitative","axis":null},"text":{"field":"t"}}},
{"data":{"name":"tags"},"transform":[{"filter":"datum.t == '18.55'"}],"mark":{"type":"bar","orient":"horizontal","size":13,"yOffset":6.5},
 "encoding":{"x":{"datum":247.9,"axis":null},"x2":{"datum":254.4},"y":{"field":"v","type":"quantitative","axis":null},
  "fill":{"field":"k","type":"nominal","scale":{"domain":["lvl","ma200","ma50","price","rsi","rsima"],"range":["#131722","#2962ff","#f23645","#5a9e78","#7e57c2","#ffd54f"]},"legend":null}}},
{"data":{"name":"tags"},"transform":[{"filter":"datum.t == '18.55'"}],"mark":{"type":"text","align":"left","baseline":"middle","fontSize":11,"color":"#ffffff","yOffset":6.5},
 "encoding":{"x":{"datum":248.78,"axis":null},"y":{"field":"v","type":"quantitative","axis":null},"text":{"field":"t"}}},
{"data":{"name":"tags"},"transform":[{"filter":"datum.t == '18.46'"}],"mark":{"type":"bar","orient":"horizontal","size":13,"yOffset":18},
 "encoding":{"x":{"datum":247.9,"axis":null},"x2":{"datum":254.4},"y":{"field":"v","type":"quantitative","axis":null},
  "fill":{"field":"k","type":"nominal","scale":{"domain":["lvl","ma200","ma50","price","rsi","rsima"],"range":["#131722","#2962ff","#f23645","#5a9e78","#7e57c2","#ffd54f"]},"legend":null}}},
{"data":{"name":"tags"},"transform":[{"filter":"datum.t == '18.46'"}],"mark":{"type":"text","align":"left","baseline":"middle","fontSize":11,"color":"#ffffff","yOffset":18},
 "encoding":{"x":{"datum":248.78,"axis":null},"y":{"field":"v","type":"quantitative","axis":null},"text":{"field":"t"}}},
{"data":{"name":"tags"},"transform":[{"filter":"datum.k == 'price'"}],"mark":{"type":"bar","orient":"horizontal","size":25,"yOffset":2},
 "encoding":{"x":{"datum":247.9,"axis":null},"x2":{"datum":256.9},"y":{"field":"v","type":"quantitative","axis":null},
  "fill":{"field":"k","type":"nominal","scale":{"domain":["lvl","ma200","ma50","price","rsi","rsima"],"range":["#131722","#2962ff","#f23645","#5a9e78","#7e57c2","#ffd54f"]},"legend":null}}},
{"data":{"name":"tags"},"transform":[{"filter":"datum.k == 'price'"}],"mark":{"type":"text","align":"left","baseline":"middle","fontSize":11,"color":"#ffffff","yOffset":-4.5},
 "encoding":{"x":{"datum":248.78,"axis":null},"y":{"field":"v","type":"quantitative","axis":null},"text":{"field":"t"}}},
{"data":{"name":"tags"},"transform":[{"filter":"datum.k == 'price'"}],"mark":{"type":"text","align":"left","baseline":"middle","fontSize":11,"color":"#ffffff","yOffset":7.5,"text":"02:36:13"},
 "encoding":{"x":{"datum":248.78,"axis":null},"y":{"field":"v","type":"quantitative","axis":null}}}
]},
{"layer":[
{"data":{"name":"bars"},"mark":{"type":"bar","size":5.6,"clip":true},
 "encoding":{
  "x":{"field":"i","type":"quantitative","scale":{"domain":[-2.89,247.34],"nice":false,"zero":false},"axis":null},
  "y":{"datum":83.07,"scale":{"domain":[12.7,83.07],"range":[664,531],"nice":false,"zero":false},"axis":null},
  "y2":{"datum":12.7},
  "color":{"field":"s","type":"nominal","scale":{"domain":["pre","reg","post"],"range":["#fef7ed","#ffffff","#e9eefc"]},"legend":null}}},
{"data":{"values":[{}]},"mark":{"type":"rect","fill":"#7e57c2","opacity":0.07},
 "encoding":{"x":{"datum":-2.89,"axis":null},"x2":{"datum":247.34},"y":{"datum":70,"axis":null},"y2":{"datum":30}}},
{"data":{"name":"rlev"},"mark":{"type":"rule","color":"#8a8d96","strokeWidth":1,"strokeDash":[4,4],"clip":true},
 "encoding":{"x":{"datum":-2.89,"axis":null},"x2":{"datum":247.34},"y":{"field":"v","type":"quantitative","axis":null}}},
{"data":{"name":"os"},"mark":{"type":"area","color":"#f23645","opacity":0.25,"clip":true},
 "encoding":{"x":{"field":"i","type":"quantitative","axis":null},"y":{"field":"r","type":"quantitative","axis":null},"y2":{"datum":30},"detail":{"field":"g"}}},
{"data":{"name":"rsima"},"mark":{"type":"line","color":"#f4c55c","strokeWidth":1.3,"clip":true},
 "encoding":{"x":{"field":"i","type":"quantitative","axis":null},"y":{"field":"r","type":"quantitative","axis":null}}},
{"data":{"name":"rsi"},"mark":{"type":"line","color":"#7e57c2","strokeWidth":1.2,"clip":true},
 "encoding":{"x":{"field":"i","type":"quantitative","axis":null},"y":{"field":"r","type":"quantitative","axis":null}}},
{"data":{"values":[{}]},"mark":{"type":"rule","color":"#c5c8d0","strokeWidth":1.5},
 "encoding":{"x":{"datum":-2.7,"axis":null},"x2":{"datum":257.27},"y":{"datum":12.7,"axis":null}}},
{"data":{"values":[{}]},"mark":{"type":"rule","color":"#d1d4dc","strokeWidth":1},
 "encoding":{"x":{"datum":247.34,"axis":null},"y":{"datum":83.07,"axis":null},"y2":{"datum":1.3}}},
{"data":{"name":"rt"},"mark":{"type":"text","align":"left","baseline":"middle","fontSize":11,"color":"#434651"},
 "encoding":{"x":{"datum":248.78,"axis":null},"y":{"field":"v","type":"quantitative","axis":null},"text":{"field":"t"}}},
{"data":{"name":"xt"},"transform":[{"filter":"indexof(['Jun','Jul','Aug'], datum.t) < 0"}],"mark":{"type":"text","align":"center","baseline":"middle","fontSize":11,"color":"#434651"},
 "encoding":{"x":{"field":"i","type":"quantitative","axis":null},"y":{"datum":6.88,"axis":null},"text":{"field":"t"}}},
{"data":{"name":"xt"},"transform":[{"filter":"indexof(['Jun','Jul','Aug'], datum.t) >= 0"}],"mark":{"type":"text","align":"center","baseline":"middle","fontSize":11,"fontWeight":"bold","color":"#131722"},
 "encoding":{"x":{"field":"i","type":"quantitative","axis":null},"y":{"datum":6.88,"axis":null},"text":{"field":"t"}}},
{"data":{"name":"rtags"},"mark":{"type":"bar","orient":"horizontal","size":13},
 "encoding":{"x":{"datum":247.9,"axis":null},"x2":{"datum":254.4},"y":{"field":"v","type":"quantitative","axis":null},
  "fill":{"field":"k","type":"nominal","scale":{"domain":["lvl","ma200","ma50","price","rsi","rsima"],"range":["#131722","#2962ff","#f23645","#5a9e78","#7e57c2","#ffd54f"]},"legend":null}}},
{"data":{"name":"rtags"},"mark":{"type":"text","align":"left","baseline":"middle","fontSize":11},
 "encoding":{"x":{"datum":248.78,"axis":null},"y":{"field":"v","type":"quantitative","axis":null},"text":{"field":"t"},
  "color":{"condition":{"test":"datum.k == 'rsima'","value":"#131722"},"value":"#ffffff"}}},
{"data":{"values":[{}]},"mark":{"type":"text","text":"TV","fontSize":16,"fontWeight":900,"color":"#131722","align":"center","baseline":"middle"},
 "encoding":{"x":{"datum":0.9,"axis":null},"y":{"datum":21.7,"axis":null}}},
{"data":{"values":[{}]},"mark":{"type":"text","text":"⚙","fontSize":13,"color":"#131722","align":"center","baseline":"middle","font":"DejaVu Sans"},
 "encoding":{"x":{"datum":252.57,"axis":null},"y":{"datum":6.35,"axis":null}}}
]}
]
}
